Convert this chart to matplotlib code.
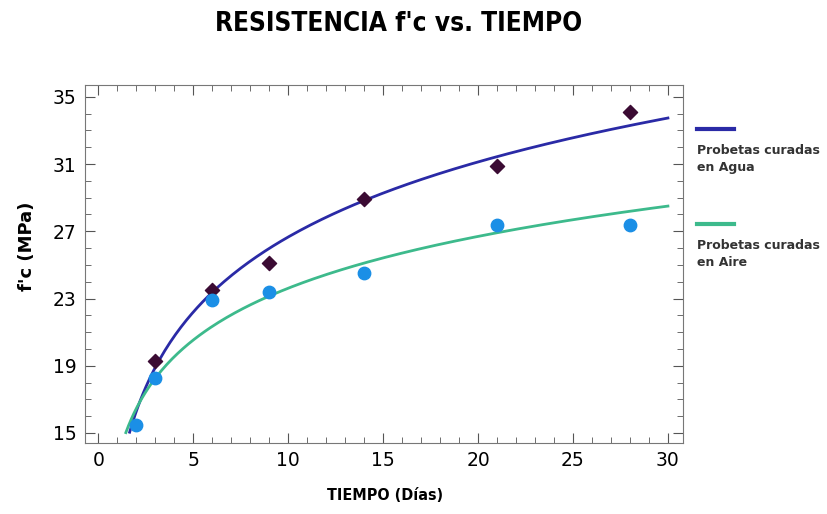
import matplotlib
matplotlib.use("Agg")
import matplotlib.pyplot as plt
import numpy as np
from matplotlib.ticker import MultipleLocator

# data
dias_agua = [3, 6, 9, 14, 21, 28]
fc_agua = [19.3, 23.5, 25.1, 28.9, 30.9, 34.1]
dias_aire = [2, 3, 6, 9, 14, 21, 28]
fc_aire = [15.5, 18.3, 22.9, 23.4, 24.5, 27.4, 27.4]

col_agua_line = "#2a2aa6"
col_aire_line = "#3dba8c"
col_agua_mark = "#3b0b33"
col_aire_mark = "#1b8fe6"

fig = plt.figure(figsize=(8.27, 5.14), dpi=100)
ax = fig.add_axes([0.1028, 0.138, 0.7232, 0.6966])

# logarithmic trend lines fitted to the data
ca = np.polyfit(np.log(dias_agua), fc_agua, 1)
cb = np.polyfit(np.log(dias_aire), fc_aire, 1)
xa = np.linspace(1.65, 30, 200)
xb = np.linspace(1.45, 30, 200)
ax.plot(xa, np.polyval(ca, np.log(xa)), color=col_agua_line, lw=2)
ax.plot(xb, np.polyval(cb, np.log(xb)), color=col_aire_line, lw=2)

ax.scatter(dias_agua, fc_agua, marker="D", s=52, color=col_agua_mark, zorder=3)
ax.scatter(dias_aire, fc_aire, marker="o", s=80, color=col_aire_mark, zorder=3)

ax.set_xlim(-0.7, 30.8)
ax.set_ylim(14.4, 35.7)
ax.xaxis.set_major_locator(MultipleLocator(5))
ax.xaxis.set_minor_locator(MultipleLocator(1))
ax.yaxis.set_minor_locator(MultipleLocator(1))
ax.set_yticks([15, 19, 23, 27, 31, 35])
ax.tick_params(which="both", direction="in", top=True, right=True,
               labelsize=13.5, color="#555555", pad=6)
ax.tick_params(which="major", length=7)
ax.tick_params(which="minor", length=4)
for s in ax.spines.values():
    s.set_color("#777777")

ax.set_xlabel("TIEMPO (Días)", fontsize=11.5, fontweight="bold",
              family="DejaVu Sans", fontstretch="condensed")
ax.xaxis.set_label_coords(0.502, -0.125)
ax.set_ylabel("f'c (MPa)", fontsize=13, fontweight="bold")
ax.yaxis.set_label_coords(-0.082, 0.55)
fig.text(0.482, 0.953, "RESISTENCIA f'c vs. TIEMPO", ha="center", va="center",
         fontsize=18.8, fontweight="bold", family="DejaVu Sans", fontstretch="condensed")

# legend drawn at the right of the axes
fig.add_artist(plt.Line2D([0.843, 0.887], [0.749, 0.749], color=col_agua_line, lw=3))
fig.text(0.843, 0.69, "Probetas curadas\nen Agua", fontsize=9, fontweight="bold",
         va="center", ha="left", color="#333333", linespacing=1.4)
fig.add_artist(plt.Line2D([0.843, 0.887], [0.564, 0.564], color=col_aire_line, lw=3))
fig.text(0.843, 0.505, "Probetas curadas\nen Aire", fontsize=9, fontweight="bold",
         va="center", ha="left", color="#333333", linespacing=1.4)

fig.savefig("out.png", dpi=100)
